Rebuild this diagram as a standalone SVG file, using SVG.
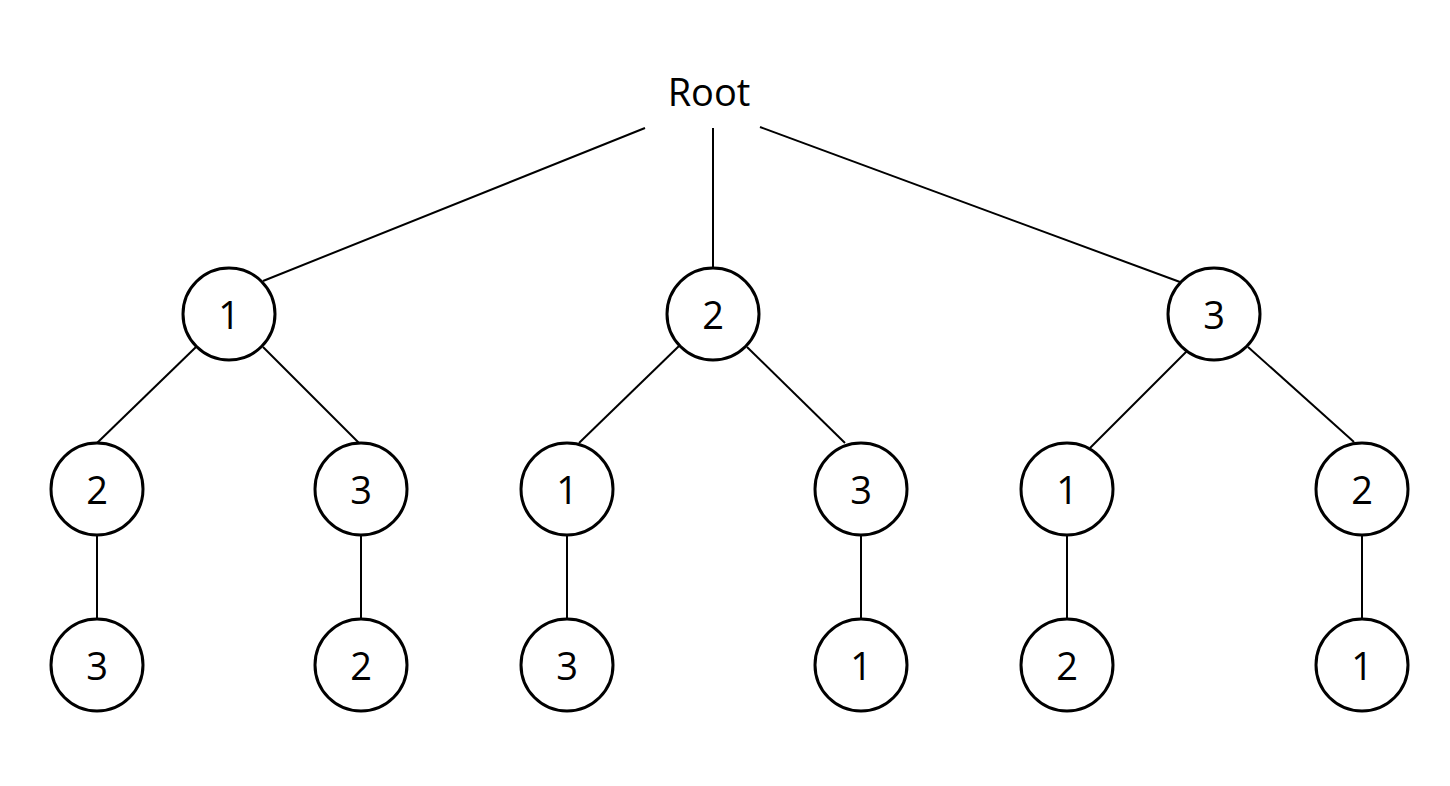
<svg xmlns="http://www.w3.org/2000/svg" width="1450" height="786" viewBox="0 0 1450 786">
<style>
.n{fill:#fff;stroke:#000;stroke-width:3}
.t{font-family:"Open Sans","Liberation Sans",sans-serif;font-size:38px;fill:#000;text-anchor:middle;dominant-baseline:central}
.e{stroke:#000;stroke-width:2;fill:none}
</style>
<rect width="1450" height="786" fill="#fff"/>
<g id="connectors">
<line class="e" x1="645" y1="128" x2="263" y2="281"/>
<line class="e" x1="713" y1="128" x2="713" y2="268"/>
<line class="e" x1="760" y1="127" x2="1180" y2="282"/>
<line class="e" x1="196" y1="347" x2="97" y2="443"/>
<line class="e" x1="263" y1="347" x2="359" y2="443"/>
<line class="e" x1="679" y1="346" x2="579" y2="443"/>
<line class="e" x1="747" y1="347" x2="845" y2="443"/>
<line class="e" x1="1187" y1="351" x2="1090" y2="448"/>
<line class="e" x1="1248" y1="347" x2="1354" y2="442"/>
<line class="e" x1="97" y1="535" x2="97" y2="619"/>
<line class="e" x1="361" y1="535" x2="361" y2="619"/>
<line class="e" x1="567" y1="535" x2="567" y2="619"/>
<line class="e" x1="861" y1="535" x2="861" y2="619"/>
<line class="e" x1="1067" y1="535" x2="1067" y2="619"/>
<line class="e" x1="1362" y1="535" x2="1362" y2="619"/>
</g>
<g id="root"><text class="t" x="709" y="91">Root</text></g>
<g id="n1"><circle class="n" cx="229" cy="314" r="46"/><text class="t" x="229" y="314">1</text></g>
<g id="n2"><circle class="n" cx="713" cy="314" r="46"/><text class="t" x="713" y="314">2</text></g>
<g id="n3"><circle class="n" cx="1214" cy="314" r="46"/><text class="t" x="1214" y="314">3</text></g>
<g id="n12"><circle class="n" cx="97" cy="489" r="46"/><text class="t" x="97" y="489">2</text></g>
<g id="n13"><circle class="n" cx="361" cy="489" r="46"/><text class="t" x="361" y="489">3</text></g>
<g id="n21"><circle class="n" cx="567" cy="489" r="46"/><text class="t" x="567" y="489">1</text></g>
<g id="n23"><circle class="n" cx="861" cy="489" r="46"/><text class="t" x="861" y="489">3</text></g>
<g id="n31"><circle class="n" cx="1067" cy="489" r="46"/><text class="t" x="1067" y="489">1</text></g>
<g id="n32"><circle class="n" cx="1362" cy="489" r="46"/><text class="t" x="1362" y="489">2</text></g>
<g id="n123"><circle class="n" cx="97" cy="665" r="46"/><text class="t" x="97" y="665">3</text></g>
<g id="n132"><circle class="n" cx="361" cy="665" r="46"/><text class="t" x="361" y="665">2</text></g>
<g id="n213"><circle class="n" cx="567" cy="665" r="46"/><text class="t" x="567" y="665">3</text></g>
<g id="n231"><circle class="n" cx="861" cy="665" r="46"/><text class="t" x="861" y="665">1</text></g>
<g id="n312"><circle class="n" cx="1067" cy="665" r="46"/><text class="t" x="1067" y="665">2</text></g>
<g id="n321"><circle class="n" cx="1362" cy="665" r="46"/><text class="t" x="1362" y="665">1</text></g>
</svg>
